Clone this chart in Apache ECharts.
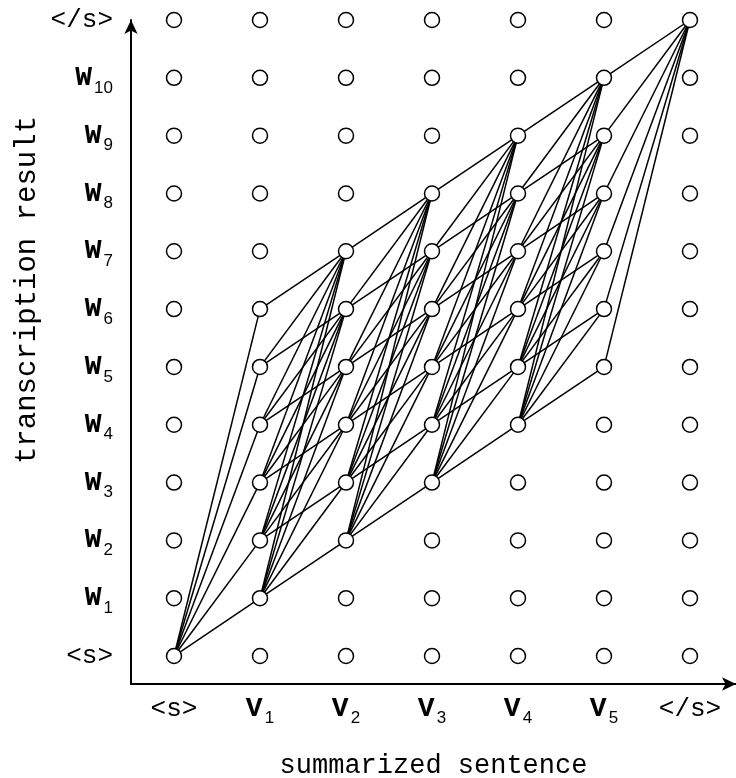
<!DOCTYPE html>
<html>
<head>
<meta charset="utf-8">
<script src="https://cdn.jsdelivr.net/npm/echarts@6/dist/echarts.min.js"></script>
<style>html,body{margin:0;padding:0;background:#fff;}#c{width:736px;height:778px;}</style>
</head>
<body>
<div id="c"></div>
<script>
// Column (x) labels: summarized sentence tokens
const xLabels = ['<s>', 'V1', 'V2', 'V3', 'V4', 'V5', '</s>'];
// Row (y) labels: transcription result tokens
const yLabels = ['<s>', 'W1', 'W2', 'W3', 'W4', 'W5', 'W6', 'W7', 'W8', 'W9', 'W10', '</s>'];
// Active (connected) rows for each column: first and last row index
const activeFirst = [0, 1, 2, 3, 4, 5, 11];
const activeLast  = [0, 6, 7, 8, 9, 10, 11];

// all grid nodes
const nodes = [];
for (let c = 0; c < xLabels.length; c++) {
  for (let r = 0; r < yLabels.length; r++) nodes.push([c, r]);
}
// edges between consecutive columns: row must strictly increase
const edges = [];
for (let c = 0; c < xLabels.length - 1; c++) {
  for (let r = activeFirst[c]; r <= activeLast[c]; r++) {
    for (let r2 = activeFirst[c + 1]; r2 <= activeLast[c + 1]; r2++) {
      if (r2 > r) edges.push({ coords: [[c, r], [c + 1, r2]] });
    }
  }
}

function fmt(v) {
  const m = /^([VW])(\d+)$/.exec(v);
  if (m) return '{m|' + m[1] + '}{s|' + m[2] + '}';
  return '{t|' + v + '}';
}
const richY = {
  m: { fontFamily: 'Liberation Mono', fontWeight: 'bold', fontSize: 28, color: '#000' },
  s: { fontFamily: 'Liberation Sans', fontSize: 17, color: '#000', padding: [20, 0, 0, 2] },
  t: { fontFamily: 'Liberation Mono', fontSize: 26, color: '#000' }
};
const richX = {
  m: { fontFamily: 'Liberation Mono', fontWeight: 'bold', fontSize: 28, color: '#000' },
  s: { fontFamily: 'Liberation Sans', fontSize: 17, color: '#000', padding: [20, 0, 0, 2] },
  t: { fontFamily: 'Liberation Mono', fontSize: 26, color: '#000', padding: [6, 0, 4, 0] }
};

const chart = echarts.init(document.getElementById('c'), null, { renderer: 'canvas' });
chart.setOption({
  animation: false,
  backgroundColor: '#fff',
  grid: { left: 131, right: 0, top: 20, bottom: 94, containLabel: false, outerBoundsMode: 'none' },
  xAxis: {
    type: 'value', min: -0.5, max: 6.535,
    axisLine: { show: true, onZero: false, lineStyle: { color: '#000', width: 2 }, symbol: ['none', 'arrow'], symbolSize: [10, 14] },
    axisTick: { show: false },
    splitLine: { show: false },
    axisLabel: { customValues: xLabels.map((_, i) => i), formatter: v => fmt(xLabels[v]), rich: richX, margin: 6 },
    name: 'summarized sentence', nameLocation: 'middle', nameGap: 68,
    nameTextStyle: { fontFamily: 'Liberation Mono', fontSize: 27, color: '#000' }
  },
  yAxis: {
    type: 'value', min: -0.484, max: 11,
    axisLine: { show: true, onZero: false, lineStyle: { color: '#000', width: 2 }, symbol: ['none', 'arrow'], symbolSize: [10, 14] },
    axisTick: { show: false },
    splitLine: { show: false },
    axisLabel: { customValues: yLabels.map((_, i) => i), formatter: v => fmt(yLabels[v]), rich: richY, margin: 18 },
    name: ''
  },
  graphic: [{
    type: 'text', x: 27, y: 290, rotation: Math.PI / 2,
    style: { text: 'transcription result', fontFamily: 'Liberation Mono', fontSize: 29, fill: '#000', align: 'center', verticalAlign: 'middle' }
  }],
  series: [
    {
      type: 'lines', coordinateSystem: 'cartesian2d', z: 2, silent: true, clip: false,
      lineStyle: { color: '#000', width: 1.5, opacity: 1 },
      data: edges
    },
    {
      type: 'scatter', z: 3, symbol: 'circle', symbolSize: 15, silent: true, clip: false,
      itemStyle: { color: '#fff', borderColor: '#000', borderWidth: 1.5, opacity: 1 },
      data: nodes
    }
  ]
});
</script>
</body>
</html>
